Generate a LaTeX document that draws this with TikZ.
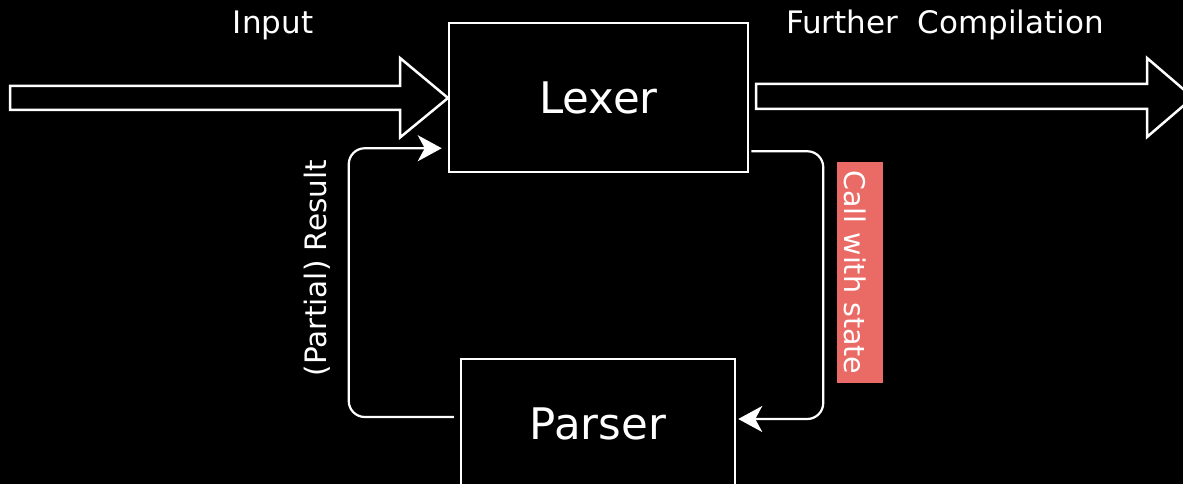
\documentclass[tikz,border=0pt]{standalone}
\usepackage{fontspec}
\setmainfont{DejaVu Sans}
\usetikzlibrary{arrows.meta}
\definecolor{callred}{HTML}{EA6B66}
\tikzset{
  blockbox/.style={draw=white, line width=2.5pt, inner sep=0pt},
  bigarrow/.style={draw=white, line width=2.5pt, line join=miter},
  conn/.style={draw=white, line width=2.2pt, rounded corners=16pt,
    -{Stealth[length=24pt,width=26pt,inset=7pt]}},
  lbl/.style={text=white, inner sep=0pt},
}
\begin{document}
\begin{tikzpicture}[x=1pt,y=-1pt]
\clip (0,0) rectangle (1183,484);
\fill[black] (0,0) rectangle (1183,484);
\useasboundingbox (0,0) rectangle (1183,484);

% block arrows
\draw[bigarrow] (10,86) -- (400,86) -- (400,58) -- (448,98) -- (400,137.5) -- (400,110) -- (10,110) -- cycle;
\draw[bigarrow] (756,84) -- (1147,84) -- (1147,58) -- (1193,97.5) -- (1147,137) -- (1147,109) -- (756,109) -- cycle;

% boxes
\node[blockbox, minimum width=299pt, minimum height=149pt, text=white,
  font=\fontsize{43.5}{50}\selectfont] (lexer) at (598.5,97.5) {Lexer};
\node[blockbox, minimum width=274pt, minimum height=130pt, text=white,
  font=\fontsize{43.5}{50}\selectfont] (parser) at (598,424) {Parser};

% top labels
\node[lbl, anchor=base, font=\fontsize{31}{36}\selectfont] (input) at (273,34) {Input};
\node[lbl, anchor=base, font=\fontsize{31}{36}\selectfont] (further) at (945,34) {Further~~Compilation};

% connectors
\draw[conn] ([xshift=-6pt,yshift=7pt]parser.west) -- ++(-105,0) |- ([xshift=-6pt,yshift=25pt]lexer.south west);
\draw[conn] ([xshift=2pt,yshift=22pt]lexer.south east) -- ++(72,0) |- ([xshift=2pt,yshift=5pt]parser.east);

% side labels
\node[lbl, anchor=base, rotate=90, font=\fontsize{29.5}{34}\selectfont] (result) at (326,268) {(Partial) Result};
\node[lbl, fill=callred, rotate=-90, minimum width=221pt, text height=39pt, text depth=7pt,
  font=\fontsize{28.5}{34}\selectfont] (call) at (860,272.5) {Call with state};
\end{tikzpicture}
\end{document}
